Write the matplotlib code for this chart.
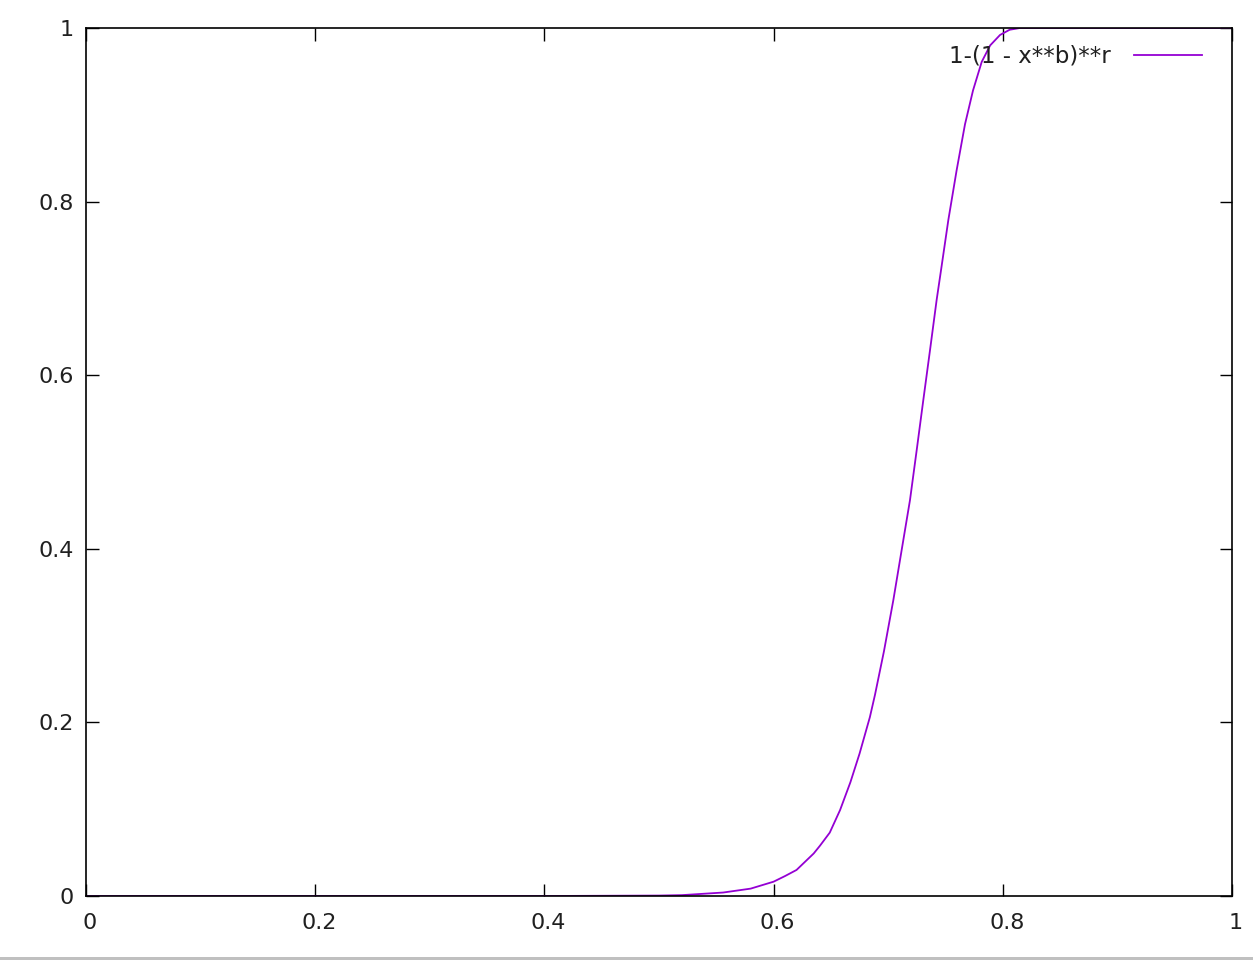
import matplotlib
matplotlib.use('Agg')
import matplotlib.pyplot as plt
import matplotlib.transforms as mtransforms
from matplotlib.patches import Rectangle

# points
x_vals = [0.0, 0.2, 0.4, 0.5, 0.52, 0.556, 0.580, 0.600, 0.610, 0.620,
          0.635, 0.6405, 0.649, 0.658, 0.667, 0.675, 0.684, 0.6885, 0.6963,
          0.7045, 0.7118, 0.719, 0.7249, 0.7306, 0.7365, 0.7423, 0.7461,
          0.7525, 0.7597, 0.767, 0.774, 0.7816, 0.789, 0.7976, 0.806,
          0.815, 0.9, 1.0]
y_vals = [0.0, 0.0, 0.0, 0.0005, 0.001, 0.004, 0.0085, 0.0165, 0.023, 0.030,
          0.049, 0.058, 0.073, 0.099, 0.131, 0.164, 0.206, 0.232, 0.282,
          0.341, 0.399, 0.456, 0.514, 0.571, 0.629, 0.687, 0.721,
          0.779, 0.836, 0.889, 0.928, 0.961, 0.980, 0.992, 0.998,
          1.0, 1.0, 1.0]
ticks = [0, 0.2, 0.4, 0.6, 0.8, 1]
tick_labels = ['0', '0.2', '0.4', '0.6', '0.8', '1']
label = '1-(1 - x**b)**r'

fig = plt.figure(figsize=(12.53, 9.6), dpi=100)
ax = fig.add_axes([86 / 1253, 64 / 960, 1146 / 1253, 868 / 960])

ax.plot(x_vals, y_vals, color='#9400d3', lw=1.3, label=label)

ax.set_xlim(0, 1)
ax.set_ylim(0, 1)
ax.set_xticks(ticks)
ax.set_xticklabels(tick_labels)
ax.set_yticks(ticks)
ax.set_yticklabels(tick_labels)
ax.tick_params(direction='in', length=9, width=1, top=True, right=True,
               labelsize=16, colors='black', labelcolor='#202020')
ax.tick_params(axis='x', pad=12)
ax.tick_params(axis='y', pad=9)
for sp in ax.spines.values():
    sp.set_linewidth(1.2)

# gnuplot puts the x labels a bit right of the tick
off = mtransforms.ScaledTranslation(4 / 100, 0, fig.dpi_scale_trans)
for t in ax.get_xticklabels():
    t.set_transform(t.get_transform() + off)

leg = ax.legend(loc='upper right', frameon=False, markerfirst=False,
                fontsize=16.5, handlelength=3.0, handletextpad=1.0,
                bbox_to_anchor=(1 - 9 / 1146, 1 + 4 / 868))
for t in leg.get_texts():
    t.set_color('#202020')

fig.add_artist(Rectangle((0, 0), 1, 3 / 960, transform=fig.transFigure,
                         color='#c0c0c0', lw=0))

fig.savefig('out.png', dpi=100)
